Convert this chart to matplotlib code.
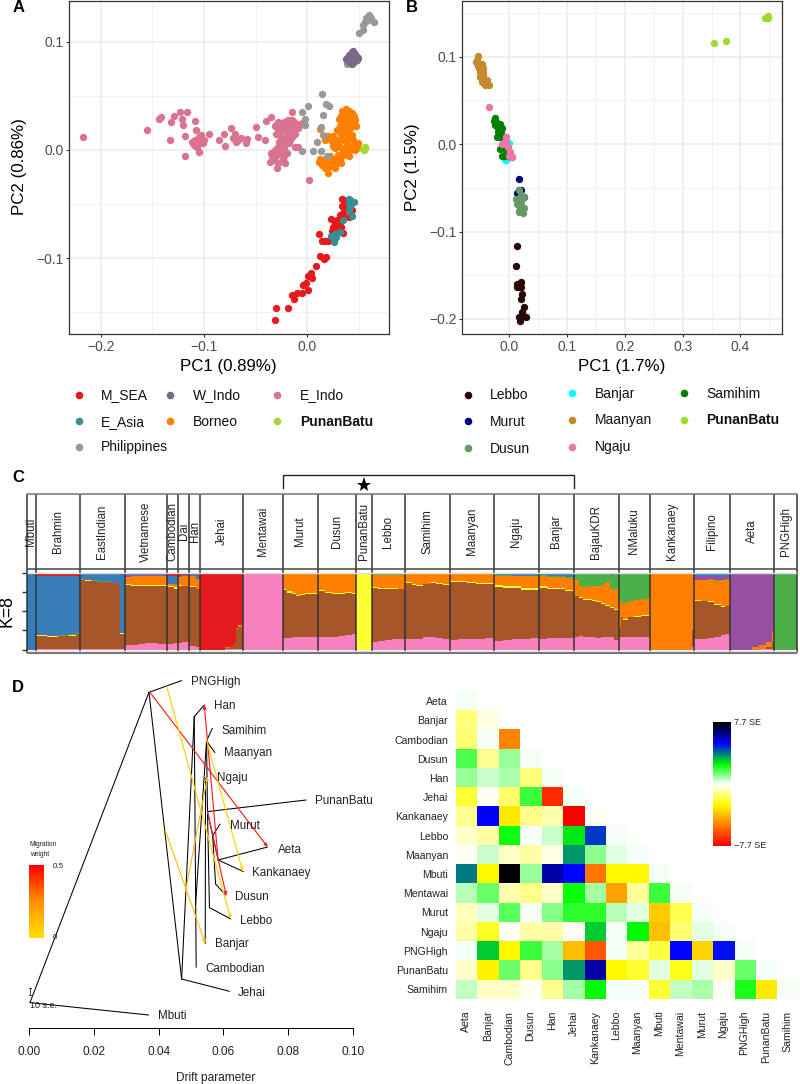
import numpy as np
import matplotlib
matplotlib.use('Agg')
import matplotlib.pyplot as plt
from matplotlib.colors import LinearSegmentedColormap

plt.rcParams['font.family'] = ['Liberation Sans', 'DejaVu Sans']

W, H = 800, 1084

# ---------- Panel A: PCA ----------
a_m_sea = [(-.031,-.157),(-.030,-.146),(-.019,-.146),(-.013,-.138),(-.015,-.134),(-.010,-.132),(-.005,-.132),(.001,-.129),(-.004,-.125),(-.001,-.123),(.005,-.118),(.001,-.116),(.004,-.114),(.008,-.107),(.012,-.098),(.016,-.101),(.018,-.099),(.011,-.078),(.014,-.084),(.017,-.084),(.020,-.084),(.023,-.064),(.034,-.045),(.024,-.075),(.027,-.072),(.030,-.069),(.033,-.066),(.032,-.060),(.035,-.058),(.036,-.054),(.038,-.049),(.041,-.055),(.035,-.077),(.028,-.077),(.036,-.062),(.033,-.071),(.025,-.071),(.031,-.074),(.036,-.046),(.043,-.055),(.040,-.062),(.029,-.065),(.033,-.060),(.030,-.073),(.027,-.068),(.034,-.052)]
a_e_asia = [(.040,-.045),(.045,-.048),(.041,-.046),(.041,-.052),(.043,-.061),(.040,-.055),(.035,-.065),(.032,-.076),(.028,-.080),(.023,-.079),(.026,-.085),(.027,-.078),(.040,-.049)]
a_w_indo = [(.038,.085),(.040,.088),(.043,.090),(.046,.089),(.048,.086),(.048,.083),(.045,.081),(.042,.080),(.039,.082),(.043,.085),(.041,.086),(.045,.085),(.044,.088),(.041,.083),(.037,.084),(.049,.085),(.044,.091),(.043,.079)]
a_philippines = [(.060,.125),(.057,.122),(.065,.118),(.056,.118),(.054,.115),(.059,.120),(.062,.122),(.050,.108),(.054,.111),(.038,.079),(.014,.052),(.001,.041),(.018,.042),(.021,.041),(-.005,.035),(.015,.032),(-.002,.029),(-.002,.023),(.013,.021),(.015,.014),(.009,.007),(-.005,-.001),(.006,-.001),(.013,-.001),(.019,-.006)]
a_e_indo = [(-.217,.012),(-.155,.018),(-.144,.029),(-.142,.030),(-.133,.009),(-.132,.026),(-.129,.031),(-.123,.035),(-.121,.029),(-.120,.023),(-.116,.035),(-.118,.013),(-.118,-.006),(-.109,.027),(-.108,.018),(-.112,.007),(-.109,.009),(-.105,.012),(-.102,.010),(-.107,.003),(-.105,-.002),(-.110,.005),(-.104,.006),(-.105,.008),(-.101,.006),(-.108,.004),(-.103,.014),(-.100,.009),(-.095,.015),(-.085,.009),(-.081,.015),(-.080,.004),(-.074,.020),(-.070,.015),(-.072,.011),(-.069,.007),(-.067,.009),(-.064,.011),(-.058,.010),(-.059,.006),(-.050,.021),(-.048,.012),(-.041,.009),(-.040,.027),(-.035,.030),(-.015,.035),(-.030,.023),(-.026,.025),(-.023,.026),(-.019,.028),(-.015,.028),(-.012,.023),(-.017,.022),(-.022,.020),(-.026,.017),(-.031,.022),(-.020,.015),(-.015,.012),(-.012,.015),(-.017,.009),(-.007,.023),(-.005,.025),(-.030,.015),(-.025,.011),(-.009,.020),(-.014,.018),(-.023,.023),(-.028,.026),(-.024,.020),(-.018,.018),(-.013,.026),(-.010,.024),(-.021,.012),(-.028,.019),(-.016,.025),(-.021,.024),(-.028,.003),(-.023,.002),(-.031,0),(-.035,-.003),(-.026,-.003),(-.020,-.003),(-.030,-.006),(-.033,-.009),(-.036,-.011),(-.028,-.012),(-.022,-.012),(-.029,-.017),(-.018,.006),(-.012,.003),(-.009,.003),(-.025,.008),(-.023,-.006),(-.034,-.006),(-.027,.007),(-.024,-.008),(-.029,-.002),(-.021,.006),(.002,-.028)]
a_borneo = [(.037,.038),(.041,.034),(.033,.031),(.045,.031),(.038,.032),(.043,.026),(.035,.027),(.040,.028),(.047,.022),(.032,.022),(.036,.020),(.041,.020),(.033,.015),(.038,.015),(.043,.014),(.025,.013),(.020,.013),(.012,.019),(.017,.009),(.024,.008),(.030,.009),(.035,.009),(.032,.003),(.038,.005),(.045,.005),(.049,.006),(.027,.002),(.035,0),(.041,0),(.046,0),(.040,-.006),(.035,-.005),(.030,-.005),(.025,-.008),(.011,-.011),(.014,-.014),(.019,-.012),(.024,-.012),(.028,-.012),(.033,-.012),(.020,-.021),(.017,-.017),(.027,-.017),(.012,-.008),(.022,-.006),(.028,-.009),(.034,.036),(.040,.036),(.043,.034),(.046,.028),(.031,.029),(.037,.024),(.042,.023),(.029,.018),(.034,.018),(.039,.010),(.044,.009),(.048,.004),(.029,.006),(.025,.004),(.037,-.002),(.032,-.008),(.022,-.015),(.015,-.009),(.026,-.013)]
a_punan = [(.049,.002),(.056,.003),(.056,.002),(.055,0)]

# ---------- Panel B: PCA ----------
b_lebbo = [(.014,-.116),(.012,-.139),(.013,-.160),(.020,-.158),(.016,-.163),(.021,-.163),(.014,-.164),(.022,-.172),(.020,-.177),(.025,-.186),(.022,-.192),(.028,-.198),(.018,-.202),(.021,-.198),(.017,-.198)]
b_murut = [(.017,-.040),(.016,-.053),(.020,-.053),(.013,-.056),(.025,-.061),(.018,-.060),(.021,-.064)]
b_dusun = [(.016,-.053),(.020,-.058),(.025,-.060),(.012,-.063),(.016,-.064),(.021,-.066),(.013,-.068),(.018,-.072),(.025,-.073),(.016,-.077),(.023,-.079),(.017,-.078),(.021,-.075)]
b_banjar = [(0,.001),(-.005,-.018),(-.001,-.015),(-.007,-.018)]
b_maanyan = [(-.055,.101),(-.058,.094),(-.048,.092),(-.054,.090),(-.046,.087),(-.051,.083),(-.045,.079),(-.051,.077),(-.042,.073),(-.048,.071),(-.038,.073),(-.042,.068),(-.035,.068),(-.045,.083),(-.052,.087),(-.056,.096),(-.049,.081),(-.044,.075)]
b_ngaju = [(-.035,.042),(-.005,.008),(-.007,.001),(-.013,0),(-.002,-.003),(.001,-.009),(.004,-.015),(0,-.013),(-.005,.003),(.001,-.015)]
b_samihim = [(-.024,.030),(-.026,.027),(-.021,.024),(-.016,.023),(-.025,.022),(-.019,.018),(-.013,.018),(-.019,.014),(-.022,.008),(-.016,.008),(-.014,.014),(-.016,-.005),(-.010,-.003),(-.013,-.013),(-.007,-.014),(-.006,-.009)]
b_punan = [(.447,.147),(.443,.144),(.448,.144),(.355,.116),(.375,.118)]

# ---------- Panel C: ancestry proportions ----------
pop_names = ['Mbuti','Brahmin','EastIndian','Vietnamese','Cambodian','Dai','Han','Jehai','Mentawai','Murut','Dusun','PunanBatu','Lebbo','Samihim','Maanyan','Ngaju','Banjar','BajauKDR','NMaluku','Kankanaey','Filipino','Aeta','PNGHigh']
k_colors = ['#F781BF','#A65628','#FFFF33','#FF7F00','#4DAF4A','#984EA3','#377EB8','#E41A1C']
# each row: individuals, then pink, brown, yellow, orange, green, purple, blue, red
pop_rows = [
 [[4, 0,0,0,0,0,0,1,0]],
 [[5,.01,.17,.005,0,.005,.005,.76,.045],[5,.01,.16,.005,0,.005,.005,.77,.045],[5,.01,.165,.005,0,.005,.005,.765,.045],[3,.012,.17,.005,0,.01,.005,.755,.043],[2,.012,.185,.005,0,.015,.005,.735,.043]],
 [[2,.005,.90,.003,0,.007,.005,.065,.015],[3,.005,.89,.003,0,.007,.005,.075,.015],[3,.005,.885,.003,0,.007,.005,.08,.015],[3,.005,.875,.003,0,.007,.005,.09,.015],[3,.005,.87,.003,0,.007,.005,.095,.015],[2,.005,.855,.003,0,.007,.005,.11,.015],[2,.005,.84,.003,0,.007,.005,.12,.02],[2,.005,.20,.005,0,.005,.005,.75,.03]],
 [[3,.06,.775,.012,.095,.005,.012,.02,.021],[3,.065,.755,.012,.12,.005,.012,.015,.016],[3,.07,.75,.012,.12,.005,.012,.015,.016],[3,.085,.745,.012,.11,.005,.012,.015,.016],[3,.09,.735,.012,.115,.005,.012,.015,.016],[2,.08,.75,.012,.11,.005,.012,.015,.016],[2,.075,.755,.012,.11,.005,.012,.015,.016]],
 [[3,.08,.73,.015,.02,.005,.01,.095,.045],[2,.09,.70,.02,.03,.005,.01,.10,.045]],
 [[2,.09,.74,.01,.10,0,.01,.01,.04],[3,.10,.72,.01,.12,0,.01,.01,.03]],
 [[3,.05,.76,.01,.14,0,.01,.01,.02],[2,.04,.74,.01,.12,0,.01,.07,.01]],
 [[11,0,0,0,0,0,0,0,1],[2,.005,.02,0,.005,0,0,0,.97],[2,.005,.04,0,.005,0,0,0,.95],[1,.005,.06,0,.005,0,0,0,.93],[1,.005,.26,0,.02,0,0,0,.715],[2,.005,.29,0,.02,0,0,0,.685]],
 [[18,1,0,0,0,0,0,0,0]],
 [[2,.15,.62,.015,.205,0,0,0,.01],[2,.155,.585,.015,.235,0,0,0,.01],[2,.16,.56,.015,.255,0,0,0,.01],[2,.165,.535,.015,.275,0,0,0,.01],[2,.165,.545,.015,.265,0,0,0,.01],[2,.165,.555,.015,.255,0,0,0,.01],[2,.165,.56,.015,.25,0,0,0,.01],[2,.16,.56,.015,.255,0,0,0,.01]],
 [[3,.165,.60,.012,.21,.003,.005,.002,.003],[3,.165,.57,.012,.24,.003,.005,.002,.003],[3,.17,.555,.012,.25,.003,.005,.002,.003],[3,.175,.545,.012,.255,.003,.005,.002,.003],[3,.19,.54,.012,.245,.003,.005,.002,.003],[2,.205,.515,.012,.255,.003,.005,.002,.003]],
 [[7,0,0,1,0,0,0,0,0]],
 [[3,.095,.70,.012,.165,.015,.003,.005,.005],[3,.11,.675,.012,.175,.015,.003,.005,.005],[3,.125,.665,.012,.17,.015,.003,.005,.005],[3,.135,.65,.012,.175,.015,.003,.005,.005],[3,.145,.635,.012,.175,.015,.003,.005,.01]],
 [[3,.135,.725,.012,.115,.004,0,.004,.005],[2,.14,.70,.012,.135,.004,0,.004,.005],[3,.145,.675,.012,.155,.004,0,.004,.005],[3,.165,.68,.012,.13,.004,0,.004,.005],[3,.16,.70,.012,.115,.004,0,.004,.005],[3,.15,.70,.012,.125,.004,0,.004,.005],[3,.145,.69,.012,.14,.004,0,.004,.005]],
 [[4,.12,.755,.012,.105,.003,0,0,.005],[4,.135,.745,.012,.10,.003,0,0,.005],[4,.14,.725,.012,.115,.003,0,0,.005],[4,.145,.705,.012,.13,.003,0,0,.005],[4,.155,.695,.012,.13,.003,0,0,.005]],
 [[4,.115,.70,.025,.12,.01,0,.01,.02],[4,.13,.665,.025,.135,.01,0,.01,.025],[4,.14,.655,.025,.13,.01,0,.015,.025],[4,.145,.63,.025,.15,.01,0,.015,.025],[4,.155,.62,.025,.15,.01,0,.015,.025]],
 [[4,.145,.66,.018,.13,.01,0,.02,.017],[4,.15,.635,.018,.14,.012,0,.028,.017],[4,.155,.625,.018,.14,.015,0,.03,.017],[4,.155,.60,.018,.15,.02,0,.04,.017]],
 [[2,.16,.53,.012,.20,.08,0,.01,.008],[2,.175,.49,.012,.15,.15,0,.01,.013],[2,.17,.48,.012,.15,.165,0,.005,.018],[2,.16,.49,.012,.16,.16,0,0,.018],[2,.16,.47,.012,.18,.16,0,0,.018],[2,.15,.47,.012,.19,.16,0,0,.018],[2,.17,.42,.012,.24,.14,.008,0,.01],[2,.16,.41,.012,.30,.10,.008,0,.01],[2,.17,.37,.012,.24,.18,.008,0,.02],[2,.13,.38,.012,.27,.195,.013,0,0]],
 [[1,.16,.13,.01,.35,.33,.02,0,0],[1,.16,.26,.01,.17,.38,.02,0,0],[2,.16,.23,.01,.20,.38,.02,0,0],[3,.16,.26,.01,.20,.35,.02,0,0],[3,.16,.265,.01,.205,.34,.02,0,0],[4,.165,.275,.01,.21,.315,.025,0,0]],
 [[19,0,0,0,1,0,0,0,0],[1,.04,.22,0,.74,0,0,0,0]],
 [[3,.135,.50,.012,.25,.01,.05,.04,.003],[3,.145,.48,.012,.26,.01,.05,.04,.003],[3,.155,.46,.012,.28,.01,.04,.04,.003],[3,.17,.41,.012,.30,.01,.05,.045,.003],[2,.185,.37,.012,.33,.01,.04,.05,.003],[2,.20,.36,.012,.33,.01,.04,.045,.003]],
 [[10,0,0,0,0,.002,.993,0,.005],[3,0,0,0,.03,0,.965,0,.005],[3,.005,.01,0,.05,0,.93,0,.005],[3,.005,.03,0,.07,0,.89,0,.005],[1,.005,.10,0,.14,0,.75,0,.005]],
 [[10,0,0,0,0,1,0,0,0]],
]

# ---------- Panel D: drift tree ----------
tree_nodes = {
 'root':(.0002,25.7),'Mbuti':(.0369,13.3),'n1':(.0370,336),'PNGHigh':(.0471,347.7),'n2':(.0471,49.3),
 'Jehai':(.0619,37),'n3':(.0510,311.7),'Han':(.0541,323.3),'Cambodian':(.0516,61),'n4':(.0514,123.3),
 'n5':(.0548,287.3),'Samihim':(.0566,300),'Maanyan':(.0574,275.7),'Banjar':(.0544,85),'Ngaju':(.0545,250),
 'n6':(.0551,216.7),'PunanBatu':(.0856,228.3),'n7':(.0557,120.7),'Lebbo':(.0623,109.3),'n8':(.0567,192.7),
 'Murut':(.0590,204.3),'n9':(.0576,144.3),'Dusun':(.0607,133.3),'n10':(.0584,168.3),'Aeta':(.0737,181.3),'Kankanaey':(.0662,156.7)}
tree_edges = [('root','Mbuti'),('root','n1'),('n1','PNGHigh'),('n1','n2'),('n2','Jehai'),('n2','n3'),('n3','Han'),('n3','Cambodian'),('n4','n5'),('n5','Samihim'),('n5','Maanyan'),('Banjar','Ngaju'),('n5','n6'),('n6','PunanBatu'),('n6','n7'),('n7','Lebbo'),('n6','n8'),('n8','Murut'),('n8','n9'),('n9','Dusun'),('n8','n10'),('n10','Aeta'),('n10','Kankanaey')]
tip_labels = [('PNGHigh',.0501,346.3),('Han',.0571,322),('Samihim',.0595,297.7),('Maanyan',.0601,275),('Ngaju',.0581,250.7),('PunanBatu',.0885,227),('Murut',.0620,202.7),('Aeta',.0769,178.7),('Kankanaey',.0690,155.7),('Dusun',.0636,131),('Lebbo',.0651,107.3),('Banjar',.0575,84),('Cambodian',.0546,59.3),('Jehai',.0644,35.3),('Mbuti',.0399,12.7)]
migrations = [((.0373,336),(.0737,181.3),'#FF2020'),((.0584,168.3),(.0541,323.3),'#FF2020'),((.0551,216.7),(.0609,132.7),'#FF2020'),
              ((.0425,341.7),(.0623,109.3),'#FFD000'),((.0548,288.3),(.0660,156.7),'#FFD400'),((.0420,198.3),(.0544,85),'#FFC400'),((.0483,136.7),(.0551,251.7),'#FFB820')]
drift_ticks = [0,.02,.04,.06,.08,.10]

# ---------- Panel D: residual matrix (SE) ----------
res_names = ['Aeta','Banjar','Cambodian','Dusun','Han','Jehai','Kankanaey','Lebbo','Maanyan','Mbuti','Mentawai','Murut','Ngaju','PNGHigh','PunanBatu','Samihim']
res_rows = [
 [0.1],
 [-1.3,-0.3],
 [-1.4,0.1,-5.0],
 [1.7,-1.1,1.0,0.1],
 [1.0,0.5,0.8,-1.3,0.1],
 [-2.0,-0.1,-1.5,1.9,-6.8,0.1],
 [-1.1,5.1,-3.0,-1.2,-0.8,-7.7,-0.1],
 [-0.5,-0.9,2.3,0.1,0.5,2.7,4.5,0.1],
 [-0.1,0.5,-0.6,-0.9,-0.3,3.5,1.1,0.3,0.1],
 [3.8,-2.7,7.7,1.0,5.9,5.0,-5.3,-2.7,-2.7,0.1],
 [0.7,1.4,-0.8,-1.2,-0.5,2.4,0.9,-4.4,-1.0,1.9,0.1],
 [-0.7,0.3,1.6,0.1,1.2,2.0,2.0,0.7,0.3,-3.6,-1.8,0.1],
 [-0.9,-2.2,-0.1,-0.9,-0.9,-0.1,3.0,0.1,2.5,-3.8,-1.4,0.3,0.1],
 [0.1,3.0,-2.7,1.9,0.9,-3.9,-5.9,0.1,-1.0,-1.9,5.0,-3.4,4.9,0.1],
 [-0.5,-2.8,1.4,-1.2,1.1,3.5,6.0,-2.7,-2.1,0.3,-2.3,0.3,-0.6,1.4,0.1],
 [0.6,-0.6,-0.6,-0.1,-1.1,0.9,2.5,0.1,0.1,-2.0,0.6,0.8,-0.1,2.2,-3.0,0.1],
]

fig = plt.figure(figsize=(W/100, H/100), dpi=100, facecolor='white')

def ax_px(l, t, r, b, **kw):
    return fig.add_axes([l/W, 1-b/H, (r-l)/W, (b-t)/H], **kw)

ov = ax_px(0, 0, W, H)
ov.set_xlim(0, W); ov.set_ylim(H, 0); ov.axis('off'); ov.set_zorder(10)

def pca(ax_box, xlim, ylim, xt, yt, xminor, yminor, groups):
    ax = ax_px(*ax_box)
    ax.set_xlim(xlim); ax.set_ylim(ylim)
    ax.set_xticks(xt); ax.set_yticks(yt)
    ax.set_xticks(xminor, minor=True); ax.set_yticks(yminor, minor=True)
    ax.grid(which='major', color='#EBEBEB', lw=1.1)
    ax.grid(which='minor', color='#EFEFEF', lw=0.6)
    ax.set_axisbelow(True)
    ax.tick_params(which='minor', length=0)
    ax.tick_params(which='major', length=2.5, width=0.8, color='#333333', labelcolor='#4D4D4D', labelsize=10, pad=1.5)
    for s in ax.spines.values():
        s.set_color('#333333'); s.set_linewidth(0.9)
    for pts, c in groups:
        p = np.array(pts)
        ax.scatter(p[:, 0], p[:, 1], s=28, c=c, linewidths=0, zorder=3)
    return ax

c_red, c_teal, c_purple, c_pink, c_orange, c_lime, c_gray = '#E41A1C', '#3B8D95', '#7B6888', '#D9738F', '#FF7F00', '#A2D935', '#999999'
pca((69.4, 0.5, 388.7, 334.3), (-.2303, .0788), (-.1702, .1380),
    [-.2, -.1, 0], [-.1, 0, .1], [-.15, -.05, .05], [-.15, -.05, .05],
    [(a_punan, c_lime), (a_m_sea, c_red), (a_e_asia, c_teal), (a_e_indo, c_pink), (a_borneo, c_orange),
     (a_punan[1:], c_lime), (a_philippines, c_gray), (a_w_indo, c_purple)])
c_leb, c_mur, c_dus, c_ban, c_maa, c_nga, c_sam = '#2B0808', '#000080', '#669966', '#00FFFF', '#C68A2E', '#EE77AA', '#008000'
pca((462.3, 0.5, 782, 334.3), (-.0814, .472), (-.2176, .1644),
    [0, .1, .2, .3, .4], [-.2, -.1, 0, .1], [.05, .15, .25, .35, .45], [-.15, -.05, .05, .15],
    [(b_lebbo, c_leb), (b_murut, c_mur), (b_dusun, c_dus), (b_banjar, c_ban), (b_maanyan, c_maa),
     (b_ngaju, c_nga), (b_samihim, c_sam), (b_ngaju[1:8], c_nga), (b_punan, '#A2D935')])

ax_font = 12.2
ov.text(228.7, 366.7, 'PC1 (0.89%)', ha='center', va='center', fontsize=ax_font)
ov.text(20, 166.7, 'PC2 (0.86%)', ha='center', va='center', rotation=90, fontsize=ax_font)
ov.text(622, 366.7, 'PC1 (1.7%)', ha='center', va='center', fontsize=ax_font)
ov.text(413, 166.7, 'PC2 (1.5%)', ha='center', va='center', rotation=90, fontsize=ax_font)

def legend(items):
    for mx_, tx_, y, lab, col, bold in items:
        ov.scatter([mx_], [y], s=30, c=col, linewidths=0)
        ov.text(tx_, y + 0.3, lab, ha='left', va='center', fontsize=10, color='#111111', fontweight='bold' if bold else 'normal')

legend([(78.7,101,394.7,'M_SEA',c_red,False),(170,192.7,394.7,'W_Indo',c_purple,False),(277,300,394.7,'E_Indo',c_pink,False),
        (78.7,101,421.3,'E_Asia',c_teal,False),(170,192.7,421.3,'Borneo',c_orange,False),(277,300,421.3,'PunanBatu',c_lime,True),
        (78.7,101,447,'Philippines',c_gray,False)])
legend([(468,490.3,394.7,'Lebbo',c_leb,False),(572.3,594.7,393.3,'Banjar',c_ban,False),(683.7,706,393.3,'Samihim',c_sam,False),
        (468,490.3,421.3,'Murut',c_mur,False),(572.3,594.7,420,'Maanyan',c_maa,False),(683.7,706,420,'PunanBatu',c_lime,True),
        (468,490.3,448.3,'Dusun',c_dus,False),(572.3,594.7,446.7,'Ngaju',c_nga,False)])

for t, x, y in [('A', 13, 8), ('B', 406, 8), ('C', 12, 478), ('D', 12, 687)]:
    ov.text(x, y, t, ha='left', va='center', fontsize=12, fontweight='bold')

# ---------- Panel C ----------
pop_n = [sum(r[0] for r in rows) for rows in pop_rows]
total = sum(pop_n)
cx = ax_px(26.7, 572.5, 796.7, 649.7)
cx.set_xlim(0, total); cx.set_ylim(0, 1)
left = 0
for rows in pop_rows:
    for r in rows:
        n, vals = r[0], np.array(r[1:], float)
        vals = vals / vals.sum()
        bottom = 0
        for v, col in zip(vals, k_colors):
            if v > 0:
                cx.bar(left, v, width=n, bottom=bottom, align='edge', color=col, linewidth=0, antialiased=False)
            bottom += v
        left += n
cx.set_xticks([]); cx.set_yticks([0, .25, .5, .75, 1]); cx.set_yticklabels([])
cx.tick_params(axis='y', length=3.6, width=1, color='#333333')
for s in cx.spines.values():
    s.set_visible(False)

hx = ax_px(26.7, 494, 796.7, 653)
hx.set_xlim(0, total); hx.set_ylim(0, 1); hx.patch.set_alpha(0); hx.axis('off'); hx.set_zorder(5)
bounds = np.concatenate([[0], np.cumsum(pop_n)])
hx.vlines(bounds, 0, 1, color='#333333', lw=1.1, clip_on=False)
hx.hlines([1], 0, total, color='#777777', lw=1.1, clip_on=False)
hx.hlines([.528, 0.0], 0, total, color='#444444', lw=1.1, clip_on=False)
hx.hlines([.505, .012], 0, total, color='#DDDDDD', lw=1.0)
for name, a, b in zip(pop_names, bounds[:-1], bounds[1:]):
    hx.text((a + b) / 2, .763, name, rotation=90, ha='center', va='center', fontsize=8.3, color='#222222')
i_m, i_b = pop_names.index('Murut'), pop_names.index('Banjar')
i_p = pop_names.index('PunanBatu')
hx.plot([bounds[i_m], bounds[i_m], bounds[i_b + 1], bounds[i_b + 1]], [1.04, 1.121, 1.121, 1.04], color='#222222', lw=1.0, clip_on=False)
hx.plot([(bounds[i_p] + bounds[i_p + 1]) / 2], [1.057], marker='*', ms=11, color='black', mew=0, clip_on=False)
ov.text(7, 611, 'K=8', rotation=90, ha='center', va='center', fontsize=12.7)

# ---------- Panel D tree ----------
tx = ax_px(29.33, 665, 352.67, 1028.3)
tx.set_xlim(0, .1); tx.set_ylim(0, 363.3); tx.patch.set_alpha(0)
for s in ['top', 'left', 'right']:
    tx.spines[s].set_visible(False)
tx.spines['bottom'].set_linewidth(0.7)
tx.set_yticks([]); tx.set_xticks(drift_ticks); tx.set_xticklabels(['%.2f' % v for v in drift_ticks])
tx.tick_params(axis='x', length=5, width=0.7, labelsize=8.6, pad=7.5, labelcolor='#222222')
for a, b in tree_edges:
    (x0, y0), (x1, y1) = tree_nodes[a], tree_nodes[b]
    tx.plot([x0, x1], [y0, y1], color='black', lw=0.75, clip_on=False, solid_capstyle='round')
for src, dst, col in migrations:
    tx.annotate('', xy=dst, xytext=src, arrowprops=dict(arrowstyle='-|>', mutation_scale=5, lw=0.85, color=col, shrinkA=0, shrinkB=0), annotation_clip=False)
for lab, x, y in tip_labels:
    tx.text(x, y, lab, ha='left', va='center', fontsize=8.4, color='#222222', clip_on=False)

ov.text(216, 1077.7, 'Drift parameter', ha='center', va='center', fontsize=8.6, color='#222222')
ov.plot([30.3, 30.3], [987.7, 995.0], color='#222222', lw=0.6)
ov.plot([29.3, 31.3], [987.7, 987.7], color='#222222', lw=0.6)
ov.plot([29.3, 31.3], [995.0, 995.0], color='#222222', lw=0.6)
ov.text(30.5, 1005.7, '10 s.e.', ha='left', va='center', fontsize=6.5, color='#222222')
ov.text(30, 844, 'Migration', ha='left', va='center', fontsize=4.8, color='#222222')
ov.text(30, 854.7, 'weight', ha='left', va='center', fontsize=4.8, color='#222222')
ov.text(53, 866, '0.5', ha='left', va='center', fontsize=5.8, color='#222222')
ov.text(53, 937.5, '0', ha='left', va='center', fontsize=5.8, color='#222222')
gx = ax_px(29.3, 865.3, 44, 937.7)
gx.imshow(np.linspace(1, 0, 64)[:, None], aspect='auto', cmap=LinearSegmentedColormap.from_list('m', ['#FFE000', '#FF9000', '#FF0000']))
gx.axis('off')

# ---------- Panel D matrix ----------
res_cmap = LinearSegmentedColormap.from_list('res', [(0, '#FF0000'), (1/3, '#FFFF00'), (.5, '#FFFFFF'), (.66, '#00FF00'), (.83, '#0000FF'), (1, '#000000')])
n = len(res_names)
mat = np.full((n, n), np.nan)
for i, row in enumerate(res_rows):
    mat[i, :len(row)] = row
mx = ax_px(455.7, 691.7, 455.7 + 21.4 * n, 691.7 + 19.2 * n)
mx.imshow(np.ma.masked_invalid(mat), cmap=res_cmap, vmin=-7.7, vmax=7.7, aspect='auto', interpolation='nearest')
mx.set_xticks(range(n)); mx.set_yticks(range(n))
mx.set_xticklabels(res_names, rotation=90, fontsize=7.6, color='#222222')
mx.set_yticklabels(res_names, fontsize=7.6, color='#222222')
mx.tick_params(length=0, pad=5.5)
mx.tick_params(axis='x', pad=8.5)
for s in mx.spines.values():
    s.set_visible(False)
bx = ax_px(713.3, 722.3, 731.3, 846)
bx.imshow(np.linspace(7.7, -7.7, 128)[:, None], aspect='auto', cmap=res_cmap, vmin=-7.7, vmax=7.7)
bx.axis('off')
ov.text(734.3, 722.5, '7.7 SE', ha='left', va='center', fontsize=6.5, color='#222222')
ov.text(734.3, 846, '\u22127.7 SE', ha='left', va='center', fontsize=6.5, color='#222222')

fig.savefig('out.png', dpi=100)
